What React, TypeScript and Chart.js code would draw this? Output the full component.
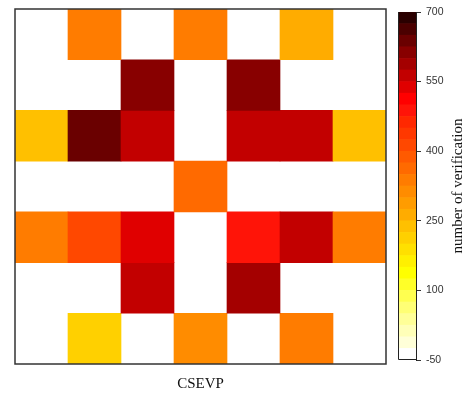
import React, { useEffect, useRef } from "react";
import { Chart, registerables } from "chart.js";

Chart.register(...registerables);

// ---- data ----
const columns = ["c1", "c2", "c3", "c4", "c5", "c6", "c7"];
// rows from top to bottom; null = empty (white) cell
const row1 = [null, 337, null, 337, null, 262, null];
const row2 = [null, null, 612, null, 612, null, null];
const row3 = [237, 637, 562, null, 562, 562, 237];
const row4 = [null, null, null, 362, null, null, null];
const row5 = [337, 412, 537, null, 487, 562, 337];
const row6 = [null, null, 562, null, 587, null, null];
const row7 = [null, 212, null, 312, null, 337, null];
const rows = [row1, row2, row3, row4, row5, row6, row7];

const xLabel = "CSEVP";
const colorbarLabel = "number of verification";
const colorbarTicks = [-50, 100, 250, 400, 550, 700];
const cbMin = -50;
const cbMax = 700;
const cbStep = 25;

// discrete colour bands, bottom (-50) to top (700)
const palette = [
  "#FFFFFF", "#FFFFD8", "#FFFFB8", "#FFFF98", "#FFFF75", "#FFFF50",
  "#FFFF28", "#FFFF00", "#FFF000", "#FFE000", "#FFD000", "#FFC000",
  "#FFAC00", "#FF9C00", "#FF8C00", "#FF7C00", "#FF6A00", "#FF5A00",
  "#FF4800", "#FF3800", "#FF2800", "#FF1408", "#FF0000", "#E00000",
  "#C20000", "#A40000", "#880000", "#6A0000", "#4B0000", "#2A0000",
];

function colorFor(v: number | null): string {
  if (v == null) return "rgba(0,0,0,0)";
  let i = Math.floor((v - cbMin) / cbStep);
  if (i < 0) i = 0;
  if (i > palette.length - 1) i = palette.length - 1;
  return palette[i];
}

const W = 464;
const H = 393;

export default function App() {
  const heatRef = useRef<HTMLCanvasElement>(null);
  const barRef = useRef<HTMLCanvasElement>(null);

  useEffect(() => {
    const nRows = rows.length;
    const heatDatasets = rows.map((row, r) => ({
      label: "row" + (r + 1),
      data: row.map((v) => (v == null ? null : [nRows - 1 - r, nRows - r])) as any,
      backgroundColor: row.map((v) => colorFor(v)),
      borderWidth: 0,
      barPercentage: 1,
      categoryPercentage: 1,
      grouped: false,
    }));

    const framePlugin = {
      id: "heatFrame",
      afterDraw(chart: any) {
        const { ctx, chartArea } = chart;
        ctx.save();
        ctx.strokeStyle = "#333333";
        ctx.lineWidth = 1.5;
        ctx.strokeRect(
          chartArea.left,
          chartArea.top,
          chartArea.right - chartArea.left,
          chartArea.bottom - chartArea.top
        );
        ctx.fillStyle = "#111111";
        ctx.font = '15px "Liberation Serif", "Times New Roman", serif';
        ctx.textAlign = "center";
        ctx.textBaseline = "alphabetic";
        ctx.fillText(xLabel, (chartArea.left + chartArea.right) / 2, 388);
        ctx.restore();
      },
    };

    const c1 = new Chart(heatRef.current!, {
      type: "bar",
      data: { labels: columns, datasets: heatDatasets },
      options: {
        responsive: false,
        animation: false,
        events: [],
        layout: { padding: { left: 15, top: 9, right: W - 386, bottom: H - 364 } },
        plugins: { legend: { display: false }, tooltip: { enabled: false } },
        scales: {
          x: { display: false },
          y: { type: "linear", display: false, min: 0, max: nRows },
        },
      },
      plugins: [framePlugin],
    } as any);

    const bandDatasets = palette.map((col, i) => ({
      label: "band" + i,
      data: [[cbMin + i * cbStep, cbMin + (i + 1) * cbStep]] as any,
      backgroundColor: col,
      borderWidth: 0,
      barPercentage: 1,
      categoryPercentage: 1,
      grouped: false,
    }));

    const cbPlugin = {
      id: "cbFrame",
      afterDraw(chart: any) {
        const { ctx, chartArea } = chart;
        ctx.save();
        ctx.strokeStyle = "#222222";
        ctx.lineWidth = 1;
        ctx.beginPath();
        ctx.moveTo(chartArea.left + 0.5, chartArea.top);
        ctx.lineTo(chartArea.left + 0.5, chartArea.bottom - 0.5);
        ctx.lineTo(chartArea.right, chartArea.bottom - 0.5);
        ctx.stroke();
        ctx.translate(458, (chartArea.top + chartArea.bottom) / 2);
        ctx.rotate(-Math.PI / 2);
        ctx.fillStyle = "#111111";
        ctx.font = '15px "Liberation Serif", "Times New Roman", serif';
        ctx.textAlign = "center";
        ctx.textBaseline = "middle";
        ctx.fillText(colorbarLabel, 0, 0);
        ctx.restore();
      },
    };

    const c2 = new Chart(barRef.current!, {
      type: "bar",
      data: { labels: ["cb"], datasets: bandDatasets },
      options: {
        responsive: false,
        animation: false,
        events: [],
        layout: { padding: { left: 398, top: 12, right: 0, bottom: H - 360 } },
        plugins: { legend: { display: false }, tooltip: { enabled: false } },
        scales: {
          x: { display: false },
          y: {
            type: "linear",
            position: "right",
            min: cbMin,
            max: cbMax,
            afterBuildTicks: (s: any) => {
              s.ticks = colorbarTicks.map((v) => ({ value: v }));
            },
            afterFit: (s: any) => {
              s.width = 48;
            },
            ticks: {
              color: "#333333",
              padding: 5,
              font: { family: '"Liberation Sans", Arial, sans-serif', size: 10.5 },
            },
            grid: {
              display: true,
              drawOnChartArea: false,
              drawTicks: true,
              tickLength: 5,
              color: "#333333",
            },
            border: { display: true, color: "#222222", width: 1 },
          },
        },
      },
      plugins: [cbPlugin],
    } as any);

    return () => {
      c1.destroy();
      c2.destroy();
    };
  }, []);

  return (
    <div style={{ position: "absolute", left: 0, top: 0, width: W, height: H, background: "#ffffff" }}>
      <canvas ref={heatRef} width={W} height={H} style={{ position: "absolute", left: 0, top: 0 }} />
      <canvas ref={barRef} width={W} height={H} style={{ position: "absolute", left: 0, top: 0 }} />
    </div>
  );
}
